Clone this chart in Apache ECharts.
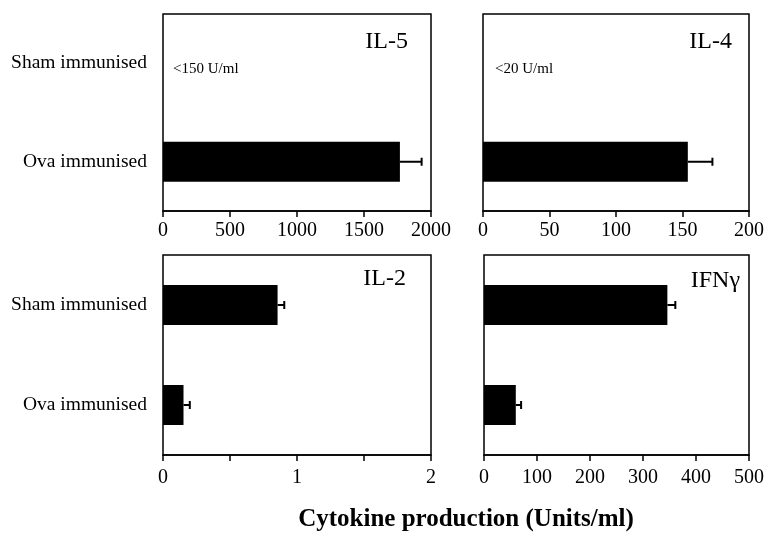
<!DOCTYPE html>
<html>
<head>
<meta charset="utf-8">
<script src="https://cdn.jsdelivr.net/npm/echarts@6/dist/echarts.min.js"></script>
<style>
html,body{margin:0;padding:0;background:#fff;}
#chart{width:767px;height:535px;}
</style>
</head>
<body>
<div id="chart"></div>
<script>
// ---- data ----
const categories = ['Sham immunised', 'Ova immunised'];
const panelNames = ['IL-5', 'IL-4', 'IL-2', 'IFN\u03b3'];
const il5Values = [null, 1768];
const il5Errors = [null, 162];
const il4Values = [null, 154];
const il4Errors = [null, 18.5];
const il2Values = [0.855, 0.153];
const il2Errors = [0.05, 0.047];
const ifngValues = [346, 60];
const ifngErrors = [15, 10];
const il5Note = '<150 U/ml';
const il4Note = '<20 U/ml';
const axisMax = [2000, 200, 2, 500];
const axisInterval = [500, 50, 0.5, 100];
const xTitle = 'Cytokine production (Units/ml)';

const FONT = 'Liberation Serif, Times New Roman, serif';
const values = [il5Values, il4Values, il2Values, ifngValues];
const errors = [il5Errors, il4Errors, il2Errors, ifngErrors];

const grids = [
  {left: 163, top: 14, width: 268, height: 197},
  {left: 483, top: 14, width: 267, height: 197},
  {left: 163, top: 255, width: 268, height: 200},
  {left: 484, top: 255, width: 267, height: 200}
].map(g => Object.assign(g, {show: true, borderColor: '#000', borderWidth: 1.5, backgroundColor: 'transparent'}));

const xAxes = grids.map((g, i) => ({
  type: 'value', gridIndex: i, min: 0, max: axisMax[i], interval: axisInterval[i],
  axisLine: {show: true, lineStyle: {color: '#000', width: 1.5}},
  axisTick: {show: true, inside: false, length: 6, lineStyle: {color: '#000', width: 1.5}},
  splitLine: {show: false},
  axisLabel: {
    color: '#000', fontFamily: FONT, fontSize: 20, margin: i < 2 ? 10 : 13,
    formatter: v => (i === 2 && v % 1 !== 0) ? '' : String(v)
  }
}));

const yAxes = grids.map((g, i) => ({
  type: 'category', gridIndex: i, data: categories, inverse: true,
  axisLine: {show: false}, axisTick: {show: false}, splitLine: {show: false},
  axisLabel: {show: i % 2 === 0, color: '#000', fontFamily: FONT, fontSize: 19.5, margin: 16}
}));

function errRender(params, api) {
  const v = api.value(0), c = api.value(1), e = api.value(2);
  if (v == null || isNaN(v) || isNaN(e)) return null;
  const p0 = api.coord([v, c]);
  const p1 = api.coord([v + e, c]);
  const st = {stroke: '#000', lineWidth: 2};
  return {type: 'group', children: [
    {type: 'line', shape: {x1: p0[0], y1: p0[1], x2: p1[0], y2: p1[1]}, style: st},
    {type: 'line', shape: {x1: p1[0], y1: p1[1] - 4, x2: p1[0], y2: p1[1] + 4}, style: st}
  ]};
}

const series = [];
values.forEach((vals, i) => {
  series.push({
    type: 'bar', xAxisIndex: i, yAxisIndex: i, barWidth: 40,
    itemStyle: {color: '#000'},
    data: vals.map(v => v == null ? '-' : v)
  });
  series.push({
    type: 'custom', xAxisIndex: i, yAxisIndex: i, renderItem: errRender,
    encode: {x: 0, y: 1}, z: 5,
    data: vals.map((v, k) => v == null ? null : [v, k, errors[i][k]]).filter(d => d)
  });
});

const titleStyle = (txt, x, y) => ({
  type: 'text', x: x, y: y,
  style: {text: txt, fill: '#000', fontFamily: FONT, fontSize: 24, align: 'right', verticalAlign: 'middle'}
});

const option = {
  animation: false,
  backgroundColor: '#fff',
  grid: grids,
  xAxis: xAxes,
  yAxis: yAxes,
  series: series,
  graphic: [
    titleStyle(panelNames[0], 408, 42),
    titleStyle(panelNames[1], 732, 42),
    titleStyle(panelNames[2], 406, 279),
    titleStyle(panelNames[3], 740, 281),
    {type: 'text', x: 173, y: 69, style: {text: il5Note, fill: '#000', fontFamily: FONT, fontSize: 15, align: 'left', verticalAlign: 'middle'}},
    {type: 'text', x: 495, y: 69, style: {text: il4Note, fill: '#000', fontFamily: FONT, fontSize: 15, align: 'left', verticalAlign: 'middle'}},
    {type: 'text', x: 466, y: 520, style: {text: xTitle, fill: '#000', fontFamily: FONT, fontSize: 25, fontWeight: 'bold', align: 'center', verticalAlign: 'middle'}}
  ]
};

const chart = echarts.init(document.getElementById('chart'), null, {renderer: 'canvas'});
chart.setOption(option);
</script>
</body>
</html>
